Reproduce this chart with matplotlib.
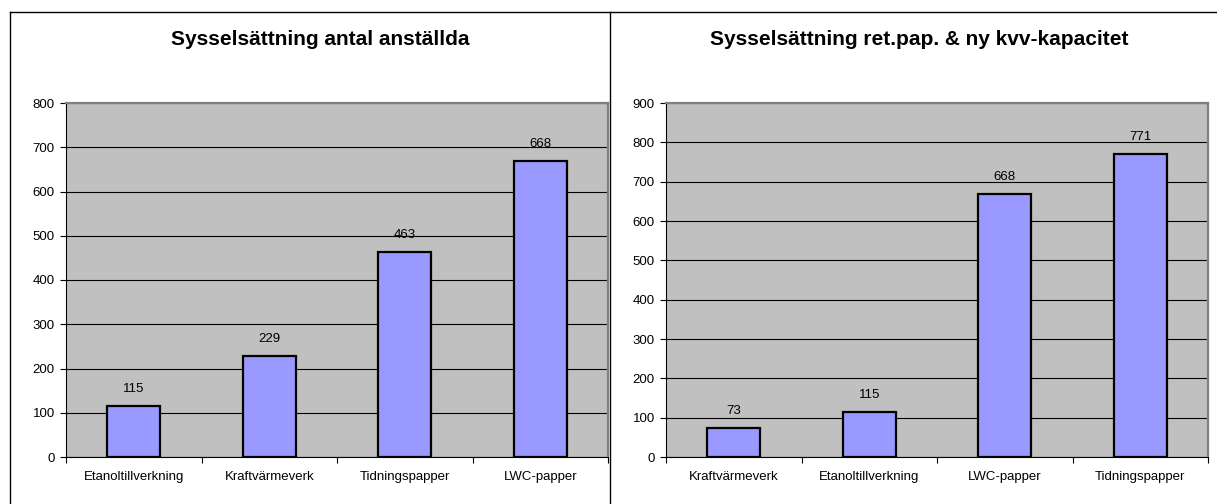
import matplotlib
matplotlib.use("Agg")
import matplotlib.pyplot as plt
from matplotlib.lines import Line2D

plt.rcParams["font.family"] = ["Liberation Sans", "DejaVu Sans"]

# Data for the two charts
left_title = "Sysselsättning antal anställda"
left_cats = ["Etanoltillverkning", "Kraftvärmeverk", "Tidningspapper", "LWC-papper"]
left_vals = [115, 229, 463, 668]
left_ymax = 800

right_title = "Sysselsättning ret.pap. & ny kvv-kapacitet"
right_cats = ["Kraftvärmeverk", "Etanoltillverkning", "LWC-papper", "Tidningspapper"]
right_vals = [73, 115, 668, 771]
right_ymax = 900

W, H = 1217, 504
fig = plt.figure(figsize=(W / 100, H / 100), dpi=100)
fig.patch.set_facecolor("white")


def px(x, y):
    # pixel coords (top-left origin) -> figure fraction
    return x / W, 1 - y / H


def draw_panel(left_px, cats, vals, ymax, title, title_x):
    x0, y0 = px(left_px, 457)
    ax = fig.add_axes([x0, y0, 542 / W, 354 / H])
    ax.set_facecolor("#C0C0C0")
    pos = list(range(len(cats)))
    ax.bar(pos, vals, width=0.39, color="#9999FF", edgecolor="black", linewidth=1.6, zorder=3)
    for p, v in zip(pos, vals):
        ax.annotate(str(v), (p, v), xytext=(0, 8), textcoords="offset points",
                    ha="center", va="bottom", fontsize=9.5)
    ax.set_xlim(-0.5, len(cats) - 0.5)
    ax.set_ylim(0, ymax)
    ax.set_yticks(range(0, ymax + 1, 100))
    ax.yaxis.grid(True, color="black", linewidth=0.8, zorder=1)
    ax.set_axisbelow(True)
    ax.set_xticks(pos)
    ax.set_xticklabels(cats)
    ax.set_xticks([p + 0.5 for p in [-1] + pos], minor=True)
    ax.tick_params(axis="x", which="major", length=0, pad=10, labelsize=9.5)
    ax.tick_params(axis="x", which="minor", length=4, width=0.8, direction="out")
    ax.tick_params(axis="y", length=4, width=0.8, pad=4, labelsize=9.5)
    for s in ["left", "bottom"]:
        ax.spines[s].set_color("black")
        ax.spines[s].set_linewidth(0.8)
    for s in ["top", "right"]:
        ax.spines[s].set_color("#808080")
        ax.spines[s].set_linewidth(1.6)
    tx, ty = px(title_x, 40)
    fig.text(tx, ty, title, ha="center", va="center", fontsize=15, fontweight="bold")
    return ax


draw_panel(66, left_cats, left_vals, left_ymax, left_title, 320)
draw_panel(666, right_cats, right_vals, right_ymax, right_title, 919)

# Chart frame lines
for xs, ys in [((10, 10), (12, 504)), ((610, 610), (12, 504)), ((10, 1217), (12, 12))]:
    p0 = px(xs[0], ys[0])
    p1 = px(xs[1], ys[1])
    fig.add_artist(Line2D([p0[0], p1[0]], [p0[1], p1[1]], color="black", linewidth=1.0))

fig.savefig("out.png", dpi=100)
